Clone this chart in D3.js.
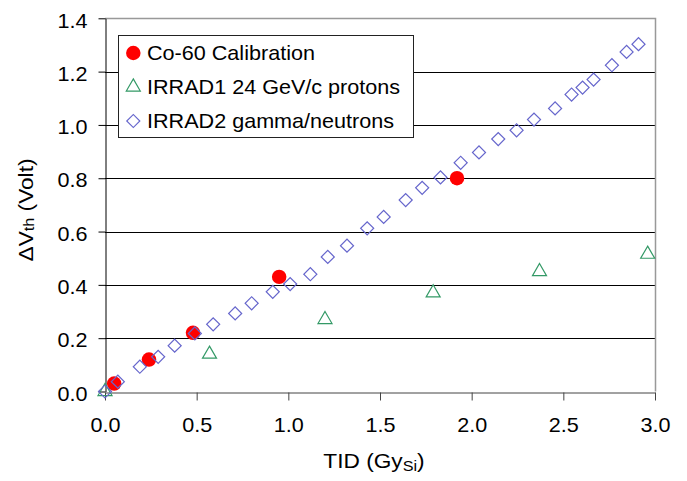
<!DOCTYPE html>
<html>
<head>
<meta charset="utf-8">
<script src="https://cdn.jsdelivr.net/npm/d3@7"></script>
<style>
  body { margin: 0; background: #fff; }
  text { font-family: "Liberation Sans", Arial, sans-serif; fill: #000; }
</style>
</head>
<body>
<script>
// data
var co60X = [0.05, 0.24, 0.48, 0.95, 1.92];
var co60Y = [0.03, 0.12, 0.22, 0.43, 0.80];

var irrad1X = [0.0, 0.57, 1.20, 1.79, 2.37, 2.96];
var irrad1Y = [0.0, 0.14, 0.27, 0.37, 0.45, 0.515];

var irrad2X = [0.0, 0.07, 0.19, 0.29, 0.38, 0.49, 0.59, 0.71, 0.80, 0.915, 1.01, 1.12,
  1.215, 1.32, 1.43, 1.52, 1.64, 1.73, 1.83, 1.94, 2.04, 2.145, 2.245, 2.34, 2.455,
  2.545, 2.605, 2.665, 2.765, 2.845, 2.91];
var irrad2Y = [0.0, 0.037, 0.093, 0.13, 0.172, 0.218, 0.252, 0.293, 0.331, 0.374, 0.403, 0.44,
  0.505, 0.547, 0.612, 0.655, 0.718, 0.764, 0.803, 0.858, 0.897, 0.947, 0.98, 1.02, 1.062,
  1.114, 1.14, 1.17, 1.224, 1.274, 1.303];

var xTicks = [0, 0.5, 1.0, 1.5, 2.0, 2.5, 3.0];
var yTicks = [0, 0.2, 0.4, 0.6, 0.8, 1.0, 1.2, 1.4];
var seriesNames = ["Co-60 Calibration", "IRRAD1 24 GeV/c protons", "IRRAD2 gamma/neutrons"];

var fontSize = 20;
var titleSize = 21;
var stretch = 1.08;

var svg = d3.select('body').append('svg')
  .attr('width', 687)
  .attr('height', 481);

svg.append('rect').attr('width', 687).attr('height', 481).attr('fill', '#fff');

var x = d3.scaleLinear().domain([0, 3]).range([105, 655]);
var y = d3.scaleLinear().domain([0, 1.4]).range([391.5, 18.3]);

// gridlines
svg.append('g').selectAll('line')
  .data(yTicks.slice(1, -1))
  .enter().append('line')
  .attr('x1', x(0)).attr('x2', x(3))
  .attr('y1', function(d) { return Math.round(y(d)) + 0.5; })
  .attr('y2', function(d) { return Math.round(y(d)) + 0.5; })
  .attr('stroke', '#000')
  .attr('stroke-width', 1);

// plot area border, top and right
svg.append('path')
  .attr('d', 'M' + x(0) + ',' + (Math.round(y(1.4)) + 0.5) + 'H' + (x(3) + 0.5) + 'V' + y(0))
  .attr('fill', 'none')
  .attr('stroke', '#999')
  .attr('stroke-width', 1.5);

// axes
var yAxis = d3.axisLeft(y)
  .tickValues(yTicks)
  .tickSize(7)
  .tickSizeOuter(0)
  .tickFormat(d3.format('.1f'));

var xAxis = d3.axisBottom(x)
  .tickValues(xTicks)
  .tickSize(8)
  .tickSizeOuter(0)
  .tickFormat(d3.format('.1f'));

var gx = svg.append('g')
  .attr('transform', 'translate(0,' + (Math.round(y(0)) + 0.5) + ')')
  .call(xAxis);
gx.select('.domain').attr('stroke', '#444');
gx.selectAll('.tick line').attr('stroke', '#444');
gx.selectAll('.tick text')
  .attr('y', null).attr('dy', null)
  .attr('font-size', fontSize)
  .attr('font-family', null)
  .attr('text-anchor', 'middle')
  .attr('transform', 'translate(0,39) scale(' + stretch + ',1)');

var gy = svg.append('g')
  .attr('transform', 'translate(' + (x(0) + 0.5) + ',0)')
  .call(yAxis);
gy.select('.domain').attr('stroke', '#000');
gy.selectAll('.tick line').attr('stroke', '#000');
gy.selectAll('.tick text')
  .attr('x', null).attr('dy', null)
  .attr('font-size', fontSize)
  .attr('font-family', null)
  .attr('text-anchor', 'end')
  .attr('transform', 'translate(-18,8.7) scale(' + stretch + ',1)');

// axis titles
var xt = svg.append('text')
  .attr('text-anchor', 'middle')
  .attr('font-size', titleSize)
  .attr('transform', 'translate(374,468) scale(' + stretch + ',1)');
xt.append('tspan').text('TID (Gy');
xt.append('tspan').attr('font-size', 15).attr('dy', 3).text('Si');
xt.append('tspan').attr('dy', -3).text(')');

var yt = svg.append('text')
  .attr('text-anchor', 'middle')
  .attr('font-size', titleSize)
  .attr('transform', 'translate(33,210) rotate(-90) scale(' + stretch + ',1)');
yt.append('tspan').text('\u0394V');
yt.append('tspan').attr('font-size', 15).attr('dy', 1).text('th');
yt.append('tspan').attr('dy', -1).text(' (Volt)');

// markers
var circle = d3.symbol(d3.symbolCircle, 165);
var triangle = d3.symbol(d3.symbolTriangle, 85);
var diamond = d3.symbol(d3.symbolSquare, 85);

svg.append('g').selectAll('path')
  .data(d3.range(co60X.length))
  .enter().append('path')
  .attr('d', circle)
  .attr('transform', function(i) { return 'translate(' + x(co60X[i]) + ',' + y(co60Y[i]) + ')'; })
  .attr('fill', '#ff0000');

svg.append('g').selectAll('path')
  .data(d3.range(irrad1X.length))
  .enter().append('path')
  .attr('d', triangle)
  .attr('transform', function(i) { return 'translate(' + x(irrad1X[i]) + ',' + y(irrad1Y[i]) + ')'; })
  .attr('fill', 'none')
  .attr('stroke', '#339966')
  .attr('stroke-width', 1.2);

svg.append('g').selectAll('path')
  .data(d3.range(irrad2X.length))
  .enter().append('path')
  .attr('d', diamond)
  .attr('transform', function(i) { return 'translate(' + x(irrad2X[i]) + ',' + y(irrad2Y[i]) + ') rotate(45)'; })
  .attr('fill', 'none')
  .attr('stroke', '#6666cc')
  .attr('stroke-width', 1.2);

// legend
var legend = svg.append('g');
legend.append('rect')
  .attr('x', 118.5).attr('y', 35.5)
  .attr('width', 295).attr('height', 102)
  .attr('fill', '#fff')
  .attr('stroke', '#222')
  .attr('stroke-width', 1);

var legendMarks = [
  { sym: circle, fill: '#ff0000', stroke: 'none', rot: '' },
  { sym: triangle, fill: 'none', stroke: '#339966', rot: '' },
  { sym: diamond, fill: 'none', stroke: '#6666cc', rot: ' rotate(45)' }
];

seriesNames.forEach(function(name, i) {
  var cy = 53 + i * 34;
  legend.append('path')
    .attr('d', legendMarks[i].sym)
    .attr('transform', 'translate(133.3,' + cy + ')' + legendMarks[i].rot)
    .attr('fill', legendMarks[i].fill)
    .attr('stroke', legendMarks[i].stroke)
    .attr('stroke-width', 1.2);
  legend.append('text')
    .attr('font-size', fontSize)
    .attr('transform', 'translate(147,' + (cy + 7) + ') scale(' + stretch + ',1)')
    .text(name);
});
</script>
</body>
</html>
